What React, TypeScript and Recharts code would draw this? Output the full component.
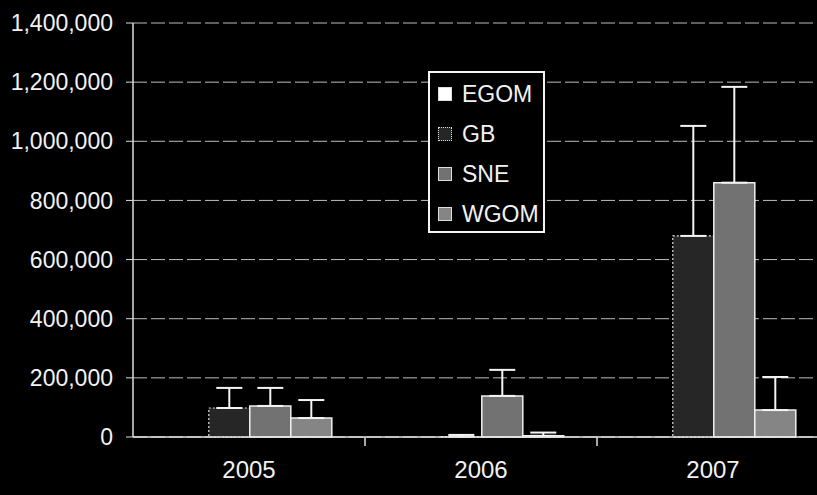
import React from 'react';
import { BarChart, Bar, XAxis, YAxis, CartesianGrid, ErrorBar, Legend } from 'recharts';

const years = ['2005', '2006', '2007'];
const egom = [0, 0, 0];
const gb = [98000, 1000, 680000];
const sne = [105000, 139000, 860000];
const wgom = [64000, 4000, 91000];
const gbErr = [68000, 6000, 372000];
const sneErr = [61000, 88000, 324000];
const wgomErr = [61000, 11000, 112000];
const yTicks = [0, 200000, 400000, 600000, 800000, 1000000, 1200000, 1400000];

const data = years.map((y, i) => ({
  year: y,
  EGOM: egom[i],
  GB: gb[i],
  SNE: sne[i],
  WGOM: wgom[i],
  gbE: [0, gbErr[i]],
  sneE: [0, sneErr[i]],
  wgomE: [0, wgomErr[i]],
}));

const FONT = '"Liberation Sans", Arial, sans-serif';
const TXT = '#f2f2f2';

const series = [
  { key: 'EGOM', fill: '#ffffff', dash: undefined as string | undefined },
  { key: 'GB', fill: '#262626', dash: '2 2' },
  { key: 'SNE', fill: '#727272', dash: undefined },
  { key: 'WGOM', fill: '#858585', dash: undefined },
];

const XTick = (props: any) => {
  const { x, y, payload } = props;
  const axisY = y - 23;
  const off = payload && typeof payload.offset === 'number' ? payload.offset : 0;
  return (
    <g>
      {payload.index < years.length - 1 && off > 0 ? (
        <line x1={x + off} x2={x + off} y1={axisY} y2={axisY + 9} stroke="#e0e0e0" strokeWidth={1.5} />
      ) : null}
      <text x={x} y={y + 1} dy="0.71em" textAnchor="middle" fill={TXT} fontSize={24} fontFamily={FONT}>
        {payload.value}
      </text>
    </g>
  );
};

const LegendBox = () => (
  <div
    style={{
      position: 'absolute',
      left: 428,
      top: 71,
      width: 113,
      height: 158,
      border: '2px solid #f4f4f4',
      background: '#000',
      fontFamily: FONT,
      color: TXT,
      fontSize: 23,
    }}
  >
    {series.map((s, i) => (
      <div
        key={s.key}
        style={{ position: 'absolute', left: 8, top: 6 + i * 40, height: 30, display: 'flex', alignItems: 'center' }}
      >
        <span
          style={{
            display: 'inline-block',
            width: 12,
            height: 12,
            background: s.fill,
            border: s.dash ? '1px dotted #ddd' : '1px solid #ddd',
            marginRight: 10,
          }}
        />
        <span>{s.key}</span>
      </div>
    ))}
  </div>
);

export default function App() {
  return (
    <div style={{ position: 'absolute', left: 0, top: 0, width: 817, height: 495, overflow: 'hidden', background: '#000' }}>
      <BarChart
        width={829}
        height={495}
        data={data}
        margin={{ top: 23, right: 0, left: 0, bottom: 0 }}
        barCategoryGap="15%"
        barGap={0}
      >
        <CartesianGrid vertical={false} stroke="#bdbdbd" strokeDasharray="14 4" />
        <XAxis
          dataKey="year"
          height={58}
          axisLine={{ stroke: '#e6e6e6', strokeWidth: 1.5 }}
          tickLine={false}
          tickSize={8}
          tickMargin={15}
          tick={<XTick />}
          interval={0}
        />
        <YAxis
          width={133}
          domain={[0, 1400000]}
          ticks={yTicks}
          interval={0}
          axisLine={{ stroke: '#dcdcdc', strokeWidth: 1.5 }}
          tickLine={{ stroke: '#dcdcdc' }}
          tickSize={7}
          tickMargin={13}
          tickFormatter={(v: number) => v.toLocaleString('en-US')}
          tick={{ fill: TXT, fontSize: 23, fontFamily: FONT }}
        />
        <Legend content={<LegendBox />} wrapperStyle={{ position: 'absolute', left: 0, top: 0, width: 0, height: 0 }} />
        <Bar dataKey="EGOM" fill="#ffffff" stroke="#ffffff" isAnimationActive={false} />
        <Bar dataKey="GB" fill="#262626" stroke="#dddddd" strokeDasharray="2 2" strokeWidth={1.2} isAnimationActive={false}>
          <ErrorBar dataKey="gbE" width={13} stroke="#f4f4f4" strokeWidth={2} direction="y" />
        </Bar>
        <Bar dataKey="SNE" fill="#727272" stroke="#f0f0f0" strokeWidth={1.5} isAnimationActive={false}>
          <ErrorBar dataKey="sneE" width={13} stroke="#f4f4f4" strokeWidth={2} direction="y" />
        </Bar>
        <Bar dataKey="WGOM" fill="#858585" stroke="#f0f0f0" strokeWidth={1.5} isAnimationActive={false}>
          <ErrorBar dataKey="wgomE" width={13} stroke="#f4f4f4" strokeWidth={2} direction="y" />
        </Bar>
      </BarChart>
    </div>
  );
}
